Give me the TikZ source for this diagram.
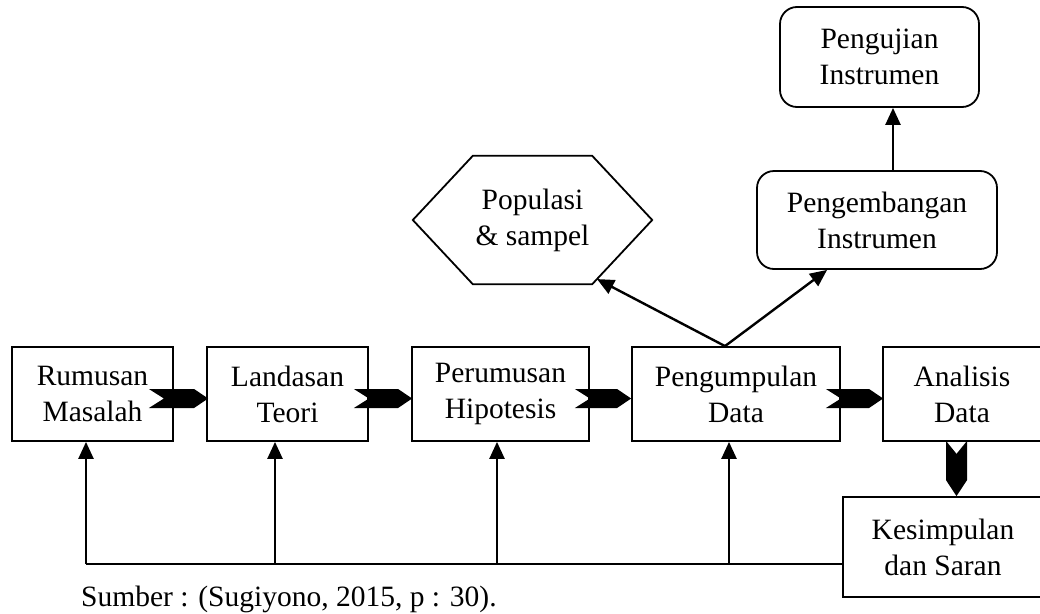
\documentclass[tikz,border=0pt]{standalone}
\usepackage{fontspec}
\setmainfont{Liberation Serif}
\usetikzlibrary{arrows.meta,calc}
\begin{document}
\begin{tikzpicture}[x=1pt,y=-1pt,
  txt/.style={font=\fontsize{29.5}{36}\selectfont,align=center},
  box/.style={txt,draw,line width=1.8pt,minimum width=#1,minimum height=94pt,inner sep=0pt},
  rbox/.style={txt,draw,line width=1.8pt,rounded corners=17pt,minimum width=#1,minimum height=98pt,inner sep=0pt},
  arr/.style={line width=2.4pt,-{Triangle[length=17pt,width=15pt]}},
  ln/.style={line width=2.4pt}]
\useasboundingbox (0,0) rectangle (1040,613);
\clip (0,0) rectangle (1040,613);
% main row
\node[box=161pt] (r) at (92.5,394) {Rumusan\\Masalah};
\node[box=161pt] (l) at (287.5,394) {Landasan\\Teori};
\node[box=177pt] (p) at (500.5,394) {Perumusan\\Hipotesis};
\node[box=208pt] (g) at (736,394) {Pengumpulan\\Data};
\node[box=158pt] (a) at (962,394) {Analisis\\Data};
\node[box=200pt,minimum height=100pt] (k) at (943,547) {Kesimpulan\\dan Saran};
% upper nodes
\node[txt,minimum width=239pt,minimum height=128pt,inner sep=0pt] (hex) at (532.5,220) {Populasi\\\& sampel};
\draw[line width=1.8pt] (hex.west) -- ($(hex.north west)+(60,0)$) -- ($(hex.north east)+(-60,0)$) -- (hex.east)
  -- ($(hex.south east)+(-60,0)$) coordinate (hbr) -- ($(hex.south west)+(60,0)$) -- cycle;
\node[rbox=240pt] (peng) at (877,220) {Pengembangan\\Instrumen};
\node[rbox=199pt,minimum height=100pt] (uji) at (879.5,57) {Pengujian\\Instrumen};
% horizontal chevrons
\newcommand\hchev[2]{\fill ($(#1)+(0,-9.5)$) -- ($(#2)+(-14,-9.5)$) -- (#2) -- ($(#2)+(-14,9.5)$) -- ($(#1)+(0,9.5)$) -- ($(#1)+(15,0)$) -- cycle;}
\coordinate (c1s) at ($(r.east)+(-25,4.5)$); \coordinate (c1e) at ($(l.west)+(2,4.5)$);
\coordinate (c2s) at ($(l.east)+(-15,4.5)$); \coordinate (c2e) at ($(p.west)+(1,4.5)$);
\coordinate (c3s) at ($(p.east)+(-15,4.5)$); \coordinate (c3e) at ($(g.west)+(0,4.5)$);
\coordinate (c4s) at ($(g.east)+(-15,4.5)$); \coordinate (c4e) at ($(a.west)+(1,4.5)$);
\hchev{c1s}{c1e}
\hchev{c2s}{c2e}
\hchev{c3s}{c3e}
\hchev{c4s}{c4e}
% down chevron
\coordinate (ds) at ($(a.south)+(-5.5,0)$);
\coordinate (de) at (ds |- k.north);
\fill ($(ds)+(-10.5,-1)$) -- ($(ds)+(0,12)$) -- ($(ds)+(10.5,-1)$) -- ($(de)+(10.5,-16)$) -- (de) -- ($(de)+(-10.5,-16)$) -- cycle;
% arrows to top
\coordinate (gs) at ($(g.north)+(-11,0)$);
\draw[arr] (gs) -- ($(hbr)!0.08!(hex.east)$);
\draw[arr] (gs) -- ($(peng.south west)+(71,0)$);
\coordinate (ps) at ($(peng.north)+(16,0)$);
\draw[arr] (ps) -- (ps |- uji.south);
% feedback
\coordinate (b1) at (86,564);
\coordinate (b2) at (275,564);
\coordinate (b3) at (497,564);
\coordinate (b4) at (729,564);
\draw[ln] (k.west |- b1) -- (b1);
\draw[arr] (b1) -- (b1 |- r.south);
\draw[arr] (b2) -- (b2 |- l.south);
\draw[arr] (b3) -- (b3 |- p.south);
\draw[arr] (b4) -- (b4 |- g.south);
% caption
\node[txt,anchor=base west,inner sep=0pt] (cap) at (81,606) {Sumber : (Sugiyono, 2015, p : 30).};
\end{tikzpicture}
\end{document}
